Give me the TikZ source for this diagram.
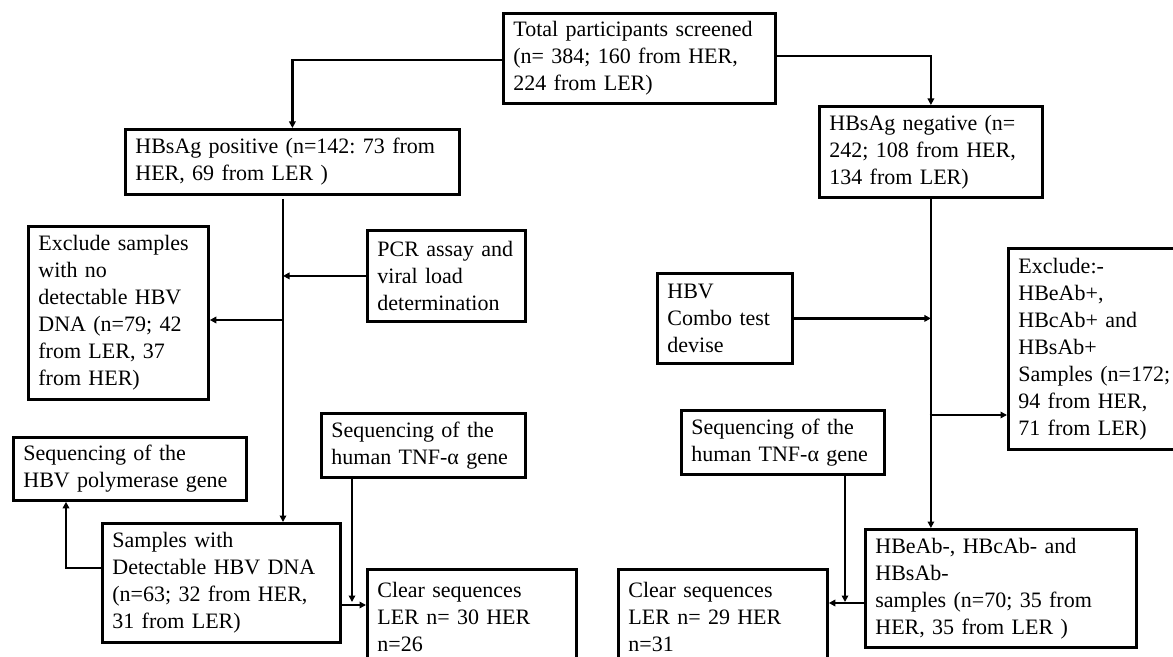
\documentclass[tikz,border=0pt]{standalone}
\usepackage{fontspec}
\setmainfont{Liberation Serif}
\usetikzlibrary{arrows.meta}
\frenchspacing
\begin{document}
\begin{tikzpicture}[x=1bp,y=-1bp,
  box/.style={draw, line width=2.8bp, anchor=north west, inner xsep=10bp, inner ysep=0pt,
    align=left, font=\fontsize{22bp}{27bp}\selectfont},
  arr/.style={line width=2.4bp, -{Triangle[length=6.5bp,width=6.5bp]}}]
\clip (0,0) rectangle (1173,657);
\fill[white] (0,0) rectangle (1173,657);

% boxes
\node[box, minimum width=272bp, minimum height=90bp, text width=252bp] (top) at (502,12)
  {Total participants screened\\(n= 384; 160 from HER,\\224 from LER)};
\node[box, minimum width=334bp, minimum height=65bp, text width=314bp] (pos) at (124,128)
  {HBsAg positive (n=142: 73 from\\HER, 69 from LER )};
\node[box, minimum width=223bp, minimum height=91bp, text width=203bp] (neg) at (818,105)
  {HBsAg negative (n=\\242; 108 from HER,\\134 from LER)};
\node[box, minimum width=180bp, minimum height=173bp, text width=160bp] (excl) at (27,225)
  {Exclude samples\\with no\\detectable HBV\\DNA (n=79; 42\\from LER, 37\\from HER)};
\node[box, minimum width=158bp, minimum height=91bp, text width=138bp] (pcr) at (366,229)
  {PCR assay and\\viral load\\determination};
\node[box, minimum width=233bp, minimum height=63bp, text width=213bp] (poly) at (12,436)
  {Sequencing of the\\HBV polymerase gene};
\node[box, minimum width=238bp, minimum height=119bp, text width=218bp] (samples) at (101,522)
  {Samples with\\Detectable HBV DNA\\(n=63; 32 from HER,\\31 from LER)};
\node[box, minimum width=204bp, minimum height=64bp, text width=184bp] (tnfa) at (320,412)
  {Sequencing of the\\human TNF-α gene};
\node[box, minimum width=209bp, minimum height=96bp, text width=189bp] (cleara) at (366,568)
  {Clear sequences\\LER n= 30 HER\\n=26};
\node[box, minimum width=135bp, minimum height=90bp, text width=115bp] (combo) at (656,272)
  {HBV\\Combo test\\devise};
\node[box, minimum width=185bp, minimum height=201bp, text width=165bp] (exr) at (1007,247)
  {Exclude:-\\HBeAb+,\\HBcAb+ and\\HBsAb+\\Samples (n=172;\\94 from HER,\\71 from LER)};
\node[box, minimum width=203bp, minimum height=64bp, text width=183bp] (tnfb) at (680,409)
  {Sequencing of the\\human TNF-α gene};
\node[box, minimum width=209bp, minimum height=96bp, text width=189bp] (clearb) at (617,568)
  {Clear sequences\\LER n= 29 HER\\n=31};
\node[box, minimum width=271bp, minimum height=118bp, text width=251bp] (negb) at (864,528)
  {HBeAb-, HBcAb- and\\HBsAb-\\samples (n=70; 35 from\\HER, 35 from LER )};

% helper coordinates
\coordinate (c1) at (292,60);
\coordinate (c2) at (929,56);
\coordinate (p0) at (283,199);
\coordinate (p1) at (283,320);
\coordinate (c3) at (66,568);
\coordinate (c4) at (352,602);
\coordinate (c5) at (0,605);
\coordinate (c6) at (845,602);
\coordinate (c7) at (0,603);
\coordinate (c9) at (929.5,415);

% connectors
\draw[arr] (top.west |- c1) -| (pos.north);
\draw[arr] (top.east |- c2) -| (neg.north);
\draw[arr] (p0) -- (p0 |- samples.north);
\draw[arr] (pcr.west) -- (pcr.west -| p0);
\draw[arr] (p1) -- (excl.east |- p1);
\draw[arr] (samples.west |- c3) -- (c3) -- (c3 |- poly.south);
\draw[arr] (tnfa.south -| c4) -- (c4);
\draw[arr] (samples.east |- c5) -- (cleara.west |- c5);
\draw[arr] (tnfb.south -| c6) -- (c6);
\draw[arr] (negb.west |- c7) -- (clearb.east |- c7);
\draw[arr] (neg.south) -- (negb.north -| neg.south);
\draw[arr] (combo.east) -- (combo.east -| neg.south);
\draw[arr] (c9) -- (exr.west |- c9);
\end{tikzpicture}
\end{document}
